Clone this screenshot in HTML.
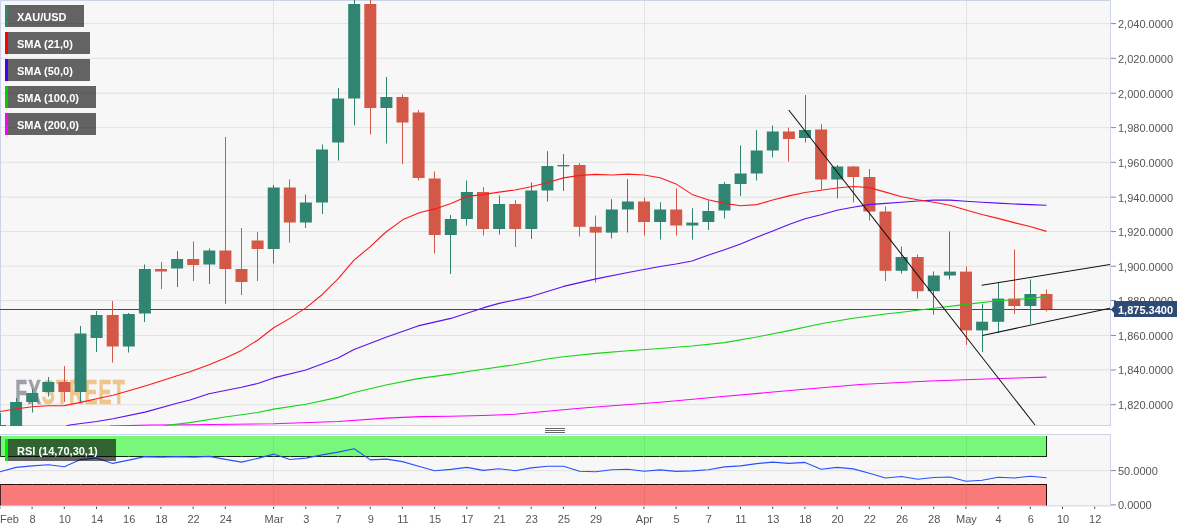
<!DOCTYPE html>
<html lang="en"><head><meta charset="utf-8"><title>XAU/USD chart</title>
<style>html,body{margin:0;padding:0;background:#fff}body{width:1194px;height:532px;overflow:hidden;font-family:"Liberation Sans",Arial,sans-serif}
svg{display:block}text{font-family:"Liberation Sans",Arial,sans-serif}</style></head><body>
<svg width="1194" height="532" viewBox="0 0 1194 532">
<defs><clipPath id="cm"><rect x="0" y="0" width="1110" height="426"/></clipPath><clipPath id="ct"><rect x="0" y="0" width="1110" height="425.5"/></clipPath><clipPath id="cr"><rect x="0" y="435" width="1110" height="71"/></clipPath></defs>
<rect width="1194" height="532" fill="#fff"/>
<rect x="0" y="0" width="1111" height="426" fill="#f7f7f7"/>
<rect x="0" y="434" width="1111" height="72" fill="#f7f7f7"/>
<g shape-rendering="crispEdges" stroke="#e3e3e3" stroke-width="1">
<rect x="1" y="23.10" width="1109" height="1" fill="#e1e1e1" stroke="none" shape-rendering="auto"/>
<rect x="1" y="57.80" width="1109" height="1" fill="#e1e1e1" stroke="none" shape-rendering="auto"/>
<rect x="1" y="92.70" width="1109" height="1" fill="#e1e1e1" stroke="none" shape-rendering="auto"/>
<rect x="1" y="127.10" width="1109" height="1" fill="#e1e1e1" stroke="none" shape-rendering="auto"/>
<rect x="1" y="161.80" width="1109" height="1" fill="#e1e1e1" stroke="none" shape-rendering="auto"/>
<rect x="1" y="196.65" width="1109" height="1" fill="#e1e1e1" stroke="none" shape-rendering="auto"/>
<rect x="1" y="231.05" width="1109" height="1" fill="#e1e1e1" stroke="none" shape-rendering="auto"/>
<rect x="1" y="265.70" width="1109" height="1" fill="#e1e1e1" stroke="none" shape-rendering="auto"/>
<rect x="1" y="300.00" width="1109" height="1" fill="#e1e1e1" stroke="none" shape-rendering="auto"/>
<rect x="1" y="334.95" width="1109" height="1" fill="#e1e1e1" stroke="none" shape-rendering="auto"/>
<rect x="1" y="369.45" width="1109" height="1" fill="#e1e1e1" stroke="none" shape-rendering="auto"/>
<rect x="1" y="404.20" width="1109" height="1" fill="#e1e1e1" stroke="none" shape-rendering="auto"/>
<line x1="273.5" y1="1" x2="273.5" y2="425"/>
<line x1="273.5" y1="435" x2="273.5" y2="506"/>
<line x1="644.5" y1="1" x2="644.5" y2="425"/>
<line x1="644.5" y1="435" x2="644.5" y2="506"/>
<line x1="966.5" y1="1" x2="966.5" y2="425"/>
<line x1="966.5" y1="435" x2="966.5" y2="506"/>
<rect x="1" y="470.1" width="1109" height="1" fill="#e1e1e1" stroke="none" shape-rendering="auto"/>
</g>
<g shape-rendering="crispEdges" fill="#ccd3e8">
<rect x="0" y="0" width="1111" height="1"/>
<rect x="0" y="0" width="1" height="426"/>
<rect x="1110" y="0" width="1" height="426"/>
<rect x="0" y="425" width="1111" height="1"/>
<rect x="0" y="434" width="1111" height="1"/>
<rect x="1110" y="434" width="1" height="72"/>
<rect x="0" y="505.4" width="1111" height="1" shape-rendering="auto"/>
</g>
<g opacity="0.8" font-weight="bold" font-size="34.5" stroke-width="0.7" stroke-linejoin="miter" letter-spacing="2">
<text transform="translate(15.2,404) scale(0.56,1)" x="0" y="0" fill="#8a8a95" stroke="#8a8a95">FX</text>
<text transform="translate(41.8,404) scale(0.568,1)" x="0" y="0" fill="#eeb972" stroke="#eeb972">STREET</text>
</g>
<line x1="0" y1="309.5" x2="1112" y2="309.5" stroke="#2d4b74" stroke-width="1" shape-rendering="crispEdges"/>
<g clip-path="url(#cm)" shape-rendering="crispEdges">
<rect x="0" y="413" width="1" height="17" fill="#2f8571" shape-rendering="auto"/>
<rect x="-6.0" y="425" width="12" height="5" fill="#2f8571" shape-rendering="auto"/>
<rect x="16" y="398" width="1" height="32" fill="#2f8571" shape-rendering="auto"/>
<rect x="10.1" y="402" width="12" height="28" fill="#2f8571" shape-rendering="auto"/>
<rect x="32" y="389" width="1" height="23.5" fill="#2f8571" shape-rendering="auto"/>
<rect x="26.2" y="393" width="12" height="9" fill="#2f8571" shape-rendering="auto"/>
<rect x="48" y="377" width="1" height="19.5" fill="#2f8571" shape-rendering="auto"/>
<rect x="42.3" y="382" width="12" height="10" fill="#2f8571" shape-rendering="auto"/>
<rect x="64" y="366" width="1" height="36" fill="#d35847" shape-rendering="auto"/>
<rect x="58.4" y="382" width="12" height="10" fill="#d35847" shape-rendering="auto"/>
<rect x="80" y="326" width="1" height="77" fill="#2f8571" shape-rendering="auto"/>
<rect x="74.5" y="333.5" width="12" height="58.5" fill="#2f8571" shape-rendering="auto"/>
<rect x="96" y="311" width="1" height="41" fill="#2f8571" shape-rendering="auto"/>
<rect x="90.6" y="315" width="12" height="23" fill="#2f8571" shape-rendering="auto"/>
<rect x="112" y="301" width="1" height="61.5" fill="#d35847" shape-rendering="auto"/>
<rect x="106.7" y="315" width="12" height="31.5" fill="#d35847" shape-rendering="auto"/>
<rect x="128" y="313" width="1" height="39.5" fill="#2f8571" shape-rendering="auto"/>
<rect x="122.8" y="314" width="12" height="32.5" fill="#2f8571" shape-rendering="auto"/>
<rect x="144" y="264.5" width="1" height="57.5" fill="#2f8571" shape-rendering="auto"/>
<rect x="138.9" y="269" width="12" height="44.5" fill="#2f8571" shape-rendering="auto"/>
<rect x="161" y="262" width="1" height="27" fill="#d35847" shape-rendering="auto"/>
<rect x="155.0" y="269" width="12" height="2.5" fill="#d35847" shape-rendering="auto"/>
<rect x="177" y="251" width="1" height="36" fill="#2f8571" shape-rendering="auto"/>
<rect x="171.1" y="259" width="12" height="9.5" fill="#2f8571" shape-rendering="auto"/>
<rect x="193" y="241.5" width="1" height="39.5" fill="#d35847" shape-rendering="auto"/>
<rect x="187.2" y="259" width="12" height="6" fill="#d35847" shape-rendering="auto"/>
<rect x="209" y="248.5" width="1" height="35.5" fill="#2f8571" shape-rendering="auto"/>
<rect x="203.3" y="250.5" width="12" height="14" fill="#2f8571" shape-rendering="auto"/>
<rect x="225" y="137" width="1" height="167" fill="#d35847" shape-rendering="auto"/>
<rect x="219.4" y="250.5" width="12" height="18.5" fill="#d35847" shape-rendering="auto"/>
<rect x="241" y="228" width="1" height="67" fill="#d35847" shape-rendering="auto"/>
<rect x="235.5" y="269" width="12" height="13" fill="#d35847" shape-rendering="auto"/>
<rect x="257" y="232" width="1" height="49" fill="#d35847" shape-rendering="auto"/>
<rect x="251.6" y="240.5" width="12" height="8.5" fill="#d35847" shape-rendering="auto"/>
<rect x="273" y="185" width="1" height="78.5" fill="#2f8571" shape-rendering="auto"/>
<rect x="267.7" y="187.5" width="12" height="61.5" fill="#2f8571" shape-rendering="auto"/>
<rect x="289" y="179.5" width="1" height="63" fill="#d35847" shape-rendering="auto"/>
<rect x="283.8" y="187.5" width="12" height="35" fill="#d35847" shape-rendering="auto"/>
<rect x="305" y="194.5" width="1" height="33.5" fill="#2f8571" shape-rendering="auto"/>
<rect x="299.9" y="202.5" width="12" height="20" fill="#2f8571" shape-rendering="auto"/>
<rect x="322" y="144.5" width="1" height="69.5" fill="#2f8571" shape-rendering="auto"/>
<rect x="316.0" y="149.5" width="12" height="53" fill="#2f8571" shape-rendering="auto"/>
<rect x="338" y="88" width="1" height="72.5" fill="#2f8571" shape-rendering="auto"/>
<rect x="332.1" y="98.5" width="12" height="44" fill="#2f8571" shape-rendering="auto"/>
<rect x="354" y="0" width="1" height="125.5" fill="#2f8571" shape-rendering="auto"/>
<rect x="348.2" y="4" width="12" height="94.5" fill="#2f8571" shape-rendering="auto"/>
<rect x="370" y="0" width="1" height="134.5" fill="#d35847" shape-rendering="auto"/>
<rect x="364.3" y="4" width="12" height="104" fill="#d35847" shape-rendering="auto"/>
<rect x="386" y="77" width="1" height="66.5" fill="#2f8571" shape-rendering="auto"/>
<rect x="380.4" y="97" width="12" height="11" fill="#2f8571" shape-rendering="auto"/>
<rect x="402" y="94.5" width="1" height="69.5" fill="#d35847" shape-rendering="auto"/>
<rect x="396.5" y="97" width="12" height="25.5" fill="#d35847" shape-rendering="auto"/>
<rect x="418" y="110" width="1" height="70.5" fill="#d35847" shape-rendering="auto"/>
<rect x="412.6" y="112.5" width="12" height="65.5" fill="#d35847" shape-rendering="auto"/>
<rect x="434" y="171.5" width="1" height="82" fill="#d35847" shape-rendering="auto"/>
<rect x="428.7" y="178.5" width="12" height="56.5" fill="#d35847" shape-rendering="auto"/>
<rect x="450" y="215" width="1" height="59" fill="#2f8571" shape-rendering="auto"/>
<rect x="444.8" y="219" width="12" height="16" fill="#2f8571" shape-rendering="auto"/>
<rect x="466" y="180.5" width="1" height="45" fill="#2f8571" shape-rendering="auto"/>
<rect x="460.9" y="192" width="12" height="27" fill="#2f8571" shape-rendering="auto"/>
<rect x="483" y="187" width="1" height="48.5" fill="#d35847" shape-rendering="auto"/>
<rect x="477.0" y="192" width="12" height="37" fill="#d35847" shape-rendering="auto"/>
<rect x="499" y="195.5" width="1" height="39" fill="#2f8571" shape-rendering="auto"/>
<rect x="493.1" y="204" width="12" height="25" fill="#2f8571" shape-rendering="auto"/>
<rect x="515" y="200" width="1" height="47" fill="#d35847" shape-rendering="auto"/>
<rect x="509.2" y="204" width="12" height="25" fill="#d35847" shape-rendering="auto"/>
<rect x="531" y="182.5" width="1" height="56.5" fill="#2f8571" shape-rendering="auto"/>
<rect x="525.3" y="190.5" width="12" height="38.5" fill="#2f8571" shape-rendering="auto"/>
<rect x="547" y="151.2" width="1" height="50.3" fill="#2f8571" shape-rendering="auto"/>
<rect x="541.4" y="166" width="12" height="24.5" fill="#2f8571" shape-rendering="auto"/>
<rect x="563" y="154" width="1" height="37" fill="#2f8571" shape-rendering="auto"/>
<rect x="557.5" y="165" width="12" height="1.4" fill="#2f8571" shape-rendering="auto"/>
<rect x="579" y="163" width="1" height="73.5" fill="#d35847" shape-rendering="auto"/>
<rect x="573.6" y="165" width="12" height="61.8" fill="#d35847" shape-rendering="auto"/>
<rect x="595" y="215.5" width="1" height="67" fill="#d35847" shape-rendering="auto"/>
<rect x="589.7" y="226.8" width="12" height="5.8" fill="#d35847" shape-rendering="auto"/>
<rect x="611" y="199.2" width="1" height="39.3" fill="#2f8571" shape-rendering="auto"/>
<rect x="605.8" y="209.5" width="12" height="23.1" fill="#2f8571" shape-rendering="auto"/>
<rect x="627" y="179.2" width="1" height="53.3" fill="#2f8571" shape-rendering="auto"/>
<rect x="621.9" y="201.5" width="12" height="8" fill="#2f8571" shape-rendering="auto"/>
<rect x="644" y="197.5" width="1" height="38" fill="#d35847" shape-rendering="auto"/>
<rect x="638.0" y="201.5" width="12" height="20.5" fill="#d35847" shape-rendering="auto"/>
<rect x="660" y="202.2" width="1" height="37.3" fill="#2f8571" shape-rendering="auto"/>
<rect x="654.1" y="209.5" width="12" height="12.5" fill="#2f8571" shape-rendering="auto"/>
<rect x="676" y="188.2" width="1" height="47.3" fill="#d35847" shape-rendering="auto"/>
<rect x="670.2" y="209.5" width="12" height="16" fill="#d35847" shape-rendering="auto"/>
<rect x="692" y="208.2" width="1" height="31.4" fill="#2f8571" shape-rendering="auto"/>
<rect x="686.3" y="222.6" width="12" height="2.9" fill="#2f8571" shape-rendering="auto"/>
<rect x="708" y="200.5" width="1" height="29.5" fill="#2f8571" shape-rendering="auto"/>
<rect x="702.4" y="211" width="12" height="11" fill="#2f8571" shape-rendering="auto"/>
<rect x="724" y="182" width="1" height="36.5" fill="#2f8571" shape-rendering="auto"/>
<rect x="718.5" y="184" width="12" height="26.5" fill="#2f8571" shape-rendering="auto"/>
<rect x="740" y="145.5" width="1" height="50.5" fill="#2f8571" shape-rendering="auto"/>
<rect x="734.6" y="173.5" width="12" height="10.5" fill="#2f8571" shape-rendering="auto"/>
<rect x="756" y="130" width="1" height="50.5" fill="#2f8571" shape-rendering="auto"/>
<rect x="750.7" y="150.5" width="12" height="23" fill="#2f8571" shape-rendering="auto"/>
<rect x="772" y="125.5" width="1" height="32" fill="#2f8571" shape-rendering="auto"/>
<rect x="766.8" y="131.5" width="12" height="19" fill="#2f8571" shape-rendering="auto"/>
<rect x="788" y="127.5" width="1" height="34" fill="#d35847" shape-rendering="auto"/>
<rect x="782.9" y="131.5" width="12" height="7.5" fill="#d35847" shape-rendering="auto"/>
<rect x="805" y="95" width="1" height="47.5" fill="#2f8571" shape-rendering="auto"/>
<rect x="799.0" y="130" width="12" height="8" fill="#2f8571" shape-rendering="auto"/>
<rect x="821" y="124" width="1" height="65.5" fill="#d35847" shape-rendering="auto"/>
<rect x="815.1" y="129.5" width="12" height="50" fill="#d35847" shape-rendering="auto"/>
<rect x="837" y="165" width="1" height="33.5" fill="#2f8571" shape-rendering="auto"/>
<rect x="831.2" y="166.5" width="12" height="13" fill="#2f8571" shape-rendering="auto"/>
<rect x="853" y="166" width="1" height="36.5" fill="#d35847" shape-rendering="auto"/>
<rect x="847.3" y="166.5" width="12" height="10.5" fill="#d35847" shape-rendering="auto"/>
<rect x="869" y="169" width="1" height="51.5" fill="#d35847" shape-rendering="auto"/>
<rect x="863.4" y="177" width="12" height="34.5" fill="#d35847" shape-rendering="auto"/>
<rect x="885" y="206.5" width="1" height="74.5" fill="#d35847" shape-rendering="auto"/>
<rect x="879.5" y="211.5" width="12" height="59.3" fill="#d35847" shape-rendering="auto"/>
<rect x="901" y="246.5" width="1" height="27.1" fill="#2f8571" shape-rendering="auto"/>
<rect x="895.6" y="257" width="12" height="13.8" fill="#2f8571" shape-rendering="auto"/>
<rect x="917" y="254.5" width="1" height="44.1" fill="#d35847" shape-rendering="auto"/>
<rect x="911.7" y="257" width="12" height="34.2" fill="#d35847" shape-rendering="auto"/>
<rect x="933" y="271.4" width="1" height="43.2" fill="#2f8571" shape-rendering="auto"/>
<rect x="927.8" y="275.5" width="12" height="15.7" fill="#2f8571" shape-rendering="auto"/>
<rect x="949" y="231.5" width="1" height="48.1" fill="#2f8571" shape-rendering="auto"/>
<rect x="943.9" y="271.6" width="12" height="3.9" fill="#2f8571" shape-rendering="auto"/>
<rect x="966" y="266.5" width="1" height="78.4" fill="#d35847" shape-rendering="auto"/>
<rect x="960.0" y="271.6" width="12" height="58.8" fill="#d35847" shape-rendering="auto"/>
<rect x="982" y="304" width="1" height="48" fill="#2f8571" shape-rendering="auto"/>
<rect x="976.1" y="321.7" width="12" height="8.7" fill="#2f8571" shape-rendering="auto"/>
<rect x="998" y="283" width="1" height="50.2" fill="#2f8571" shape-rendering="auto"/>
<rect x="992.2" y="298.6" width="12" height="23.2" fill="#2f8571" shape-rendering="auto"/>
<rect x="1014" y="249.5" width="1" height="64.5" fill="#d35847" shape-rendering="auto"/>
<rect x="1008.3" y="298.6" width="12" height="7.4" fill="#d35847" shape-rendering="auto"/>
<rect x="1030" y="279.5" width="1" height="44.5" fill="#2f8571" shape-rendering="auto"/>
<rect x="1024.4" y="294" width="12" height="12" fill="#2f8571" shape-rendering="auto"/>
<rect x="1046" y="289.5" width="1" height="22" fill="#d35847" shape-rendering="auto"/>
<rect x="1040.5" y="294" width="12" height="15" fill="#d35847" shape-rendering="auto"/>
</g>
<g clip-path="url(#cm)" fill="none" stroke-width="1.1" stroke-linejoin="round">
<polyline stroke="#ff00ff" points="110.0,426.0 150.0,425.0 190.0,424.7 273.7,423.8 338.0,421.5 386.0,418.1 420.0,416.6 451.0,416.2 483.0,415.5 515.0,414.3 547.0,411.3 580.0,408.3 612.0,405.7 660.0,402.3 720.0,396.8 790.0,390.5 860.0,384.5 930.0,381.0 1000.0,378.5 1046.5,377.1"/>
<polyline stroke="#14d414" points="160.0,427.0 169.0,425.0 190.0,422.6 225.0,417.0 257.6,412.5 273.7,409.1 305.9,404.2 338.0,397.4 354.0,392.5 386.0,385.0 418.0,378.6 451.0,374.1 483.0,369.2 515.0,364.7 547.0,359.0 563.5,356.8 596.0,353.4 628.0,350.8 660.0,348.5 692.0,346.0 724.5,342.6 756.7,337.0 788.9,330.6 821.0,323.8 853.0,318.2 885.5,314.0 901.6,312.3 933.8,308.3 966.0,304.4 998.0,300.8 1030.0,298.4 1046.5,296.6"/>
<polyline stroke="#5c10f0" points="64.0,427.0 69.5,425.0 96.6,421.5 113.0,418.7 145.0,412.1 177.0,403.3 190.0,400.0 209.0,393.7 241.5,387.3 257.6,383.5 273.7,377.9 305.9,370.0 338.0,357.9 354.0,349.6 386.0,337.2 418.0,325.9 450.8,318.4 483.0,307.9 499.0,303.4 531.0,296.6 563.5,286.4 596.0,278.9 628.0,272.5 660.0,266.5 676.0,264.0 692.0,261.0 708.0,255.3 724.5,249.7 740.6,244.0 756.7,237.3 772.8,230.9 788.9,224.5 805.0,218.8 821.0,214.7 837.0,210.2 853.0,207.2 869.0,204.6 885.5,203.4 901.6,202.2 917.7,201.0 933.8,200.1 949.9,200.1 966.0,201.3 982.0,202.2 998.0,203.1 1014.0,204.0 1030.0,204.6 1046.5,205.2"/>
<polyline stroke="#ff1a1a" points="0.0,411.5 16.0,409.0 32.0,406.8 48.0,405.7 64.4,405.6 80.5,402.4 96.6,398.8 113.0,395.2 128.8,390.8 145.0,386.0 161.0,381.0 177.0,375.7 190.0,371.8 209.0,364.7 225.4,357.9 241.5,350.4 257.6,340.2 273.7,327.8 289.8,318.4 305.9,307.9 322.0,294.7 338.0,278.9 354.0,260.1 370.0,246.9 380.0,237.5 386.0,232.0 403.0,219.6 420.0,212.5 435.0,208.9 451.0,203.6 467.0,196.4 483.0,194.6 499.0,192.1 515.0,190.0 531.0,186.8 547.0,182.7 563.5,177.9 580.0,175.4 596.0,174.4 612.0,175.0 628.0,174.1 644.0,175.0 660.0,177.8 676.0,183.9 692.0,194.4 708.0,199.7 724.5,203.4 740.6,205.7 756.7,204.6 772.8,200.0 788.9,195.9 805.0,192.5 821.0,190.3 837.0,188.0 853.0,186.5 869.4,187.6 885.5,192.1 901.6,196.8 917.7,199.8 933.8,202.2 949.9,205.2 966.0,210.0 982.0,214.5 998.0,218.4 1014.0,222.6 1030.0,226.5 1046.5,231.4"/>
</g>
<g clip-path="url(#ct)" stroke="#111" stroke-width="1.05" fill="none">
<line x1="788.7" y1="110" x2="1035" y2="425"/>
<line x1="981.7" y1="285.3" x2="1110" y2="264.5"/>
<line x1="982.4" y1="335.4" x2="1110" y2="308.3"/>
</g>
<g shape-rendering="crispEdges">
<rect x="0" y="436" width="1047" height="21" fill="#78f878"/>
<rect x="0" y="484" width="1047" height="21.5" fill="#fa7a7a" shape-rendering="auto"/>
<rect x="273" y="436" width="1" height="21" fill="#70e870"/>
<rect x="273" y="484" width="1" height="21.5" fill="#ea7272" shape-rendering="auto"/>
<rect x="644" y="436" width="1" height="21" fill="#70e870"/>
<rect x="644" y="484" width="1" height="21.5" fill="#ea7272" shape-rendering="auto"/>
<rect x="966" y="436" width="1" height="21" fill="#70e870"/>
<rect x="966" y="484" width="1" height="21.5" fill="#ea7272" shape-rendering="auto"/>
<rect x="0" y="456" width="1047" height="1" fill="#0a2a0a"/>
<rect x="0" y="484" width="1047" height="1" fill="#2a0a0a"/>
<rect x="15.6" y="456" width="1" height="1" fill="#3c8c3c" shape-rendering="auto"/>
<rect x="15.6" y="484" width="1" height="1" fill="#8c3c3c" shape-rendering="auto"/>
<rect x="31.7" y="456" width="1" height="1" fill="#3c8c3c" shape-rendering="auto"/>
<rect x="31.7" y="484" width="1" height="1" fill="#8c3c3c" shape-rendering="auto"/>
<rect x="47.8" y="456" width="1" height="1" fill="#3c8c3c" shape-rendering="auto"/>
<rect x="47.8" y="484" width="1" height="1" fill="#8c3c3c" shape-rendering="auto"/>
<rect x="63.9" y="456" width="1" height="1" fill="#3c8c3c" shape-rendering="auto"/>
<rect x="63.9" y="484" width="1" height="1" fill="#8c3c3c" shape-rendering="auto"/>
<rect x="80.0" y="456" width="1" height="1" fill="#3c8c3c" shape-rendering="auto"/>
<rect x="80.0" y="484" width="1" height="1" fill="#8c3c3c" shape-rendering="auto"/>
<rect x="96.1" y="456" width="1" height="1" fill="#3c8c3c" shape-rendering="auto"/>
<rect x="96.1" y="484" width="1" height="1" fill="#8c3c3c" shape-rendering="auto"/>
<rect x="112.2" y="456" width="1" height="1" fill="#3c8c3c" shape-rendering="auto"/>
<rect x="112.2" y="484" width="1" height="1" fill="#8c3c3c" shape-rendering="auto"/>
<rect x="128.3" y="456" width="1" height="1" fill="#3c8c3c" shape-rendering="auto"/>
<rect x="128.3" y="484" width="1" height="1" fill="#8c3c3c" shape-rendering="auto"/>
<rect x="144.4" y="456" width="1" height="1" fill="#3c8c3c" shape-rendering="auto"/>
<rect x="144.4" y="484" width="1" height="1" fill="#8c3c3c" shape-rendering="auto"/>
<rect x="160.5" y="456" width="1" height="1" fill="#3c8c3c" shape-rendering="auto"/>
<rect x="160.5" y="484" width="1" height="1" fill="#8c3c3c" shape-rendering="auto"/>
<rect x="176.6" y="456" width="1" height="1" fill="#3c8c3c" shape-rendering="auto"/>
<rect x="176.6" y="484" width="1" height="1" fill="#8c3c3c" shape-rendering="auto"/>
<rect x="192.7" y="456" width="1" height="1" fill="#3c8c3c" shape-rendering="auto"/>
<rect x="192.7" y="484" width="1" height="1" fill="#8c3c3c" shape-rendering="auto"/>
<rect x="208.8" y="456" width="1" height="1" fill="#3c8c3c" shape-rendering="auto"/>
<rect x="208.8" y="484" width="1" height="1" fill="#8c3c3c" shape-rendering="auto"/>
<rect x="224.9" y="456" width="1" height="1" fill="#3c8c3c" shape-rendering="auto"/>
<rect x="224.9" y="484" width="1" height="1" fill="#8c3c3c" shape-rendering="auto"/>
<rect x="241.0" y="456" width="1" height="1" fill="#3c8c3c" shape-rendering="auto"/>
<rect x="241.0" y="484" width="1" height="1" fill="#8c3c3c" shape-rendering="auto"/>
<rect x="257.1" y="456" width="1" height="1" fill="#3c8c3c" shape-rendering="auto"/>
<rect x="257.1" y="484" width="1" height="1" fill="#8c3c3c" shape-rendering="auto"/>
<rect x="273.2" y="456" width="1" height="1" fill="#3c8c3c" shape-rendering="auto"/>
<rect x="273.2" y="484" width="1" height="1" fill="#8c3c3c" shape-rendering="auto"/>
<rect x="289.3" y="456" width="1" height="1" fill="#3c8c3c" shape-rendering="auto"/>
<rect x="289.3" y="484" width="1" height="1" fill="#8c3c3c" shape-rendering="auto"/>
<rect x="305.4" y="456" width="1" height="1" fill="#3c8c3c" shape-rendering="auto"/>
<rect x="305.4" y="484" width="1" height="1" fill="#8c3c3c" shape-rendering="auto"/>
<rect x="321.5" y="456" width="1" height="1" fill="#3c8c3c" shape-rendering="auto"/>
<rect x="321.5" y="484" width="1" height="1" fill="#8c3c3c" shape-rendering="auto"/>
<rect x="337.6" y="456" width="1" height="1" fill="#3c8c3c" shape-rendering="auto"/>
<rect x="337.6" y="484" width="1" height="1" fill="#8c3c3c" shape-rendering="auto"/>
<rect x="353.7" y="456" width="1" height="1" fill="#3c8c3c" shape-rendering="auto"/>
<rect x="353.7" y="484" width="1" height="1" fill="#8c3c3c" shape-rendering="auto"/>
<rect x="369.8" y="456" width="1" height="1" fill="#3c8c3c" shape-rendering="auto"/>
<rect x="369.8" y="484" width="1" height="1" fill="#8c3c3c" shape-rendering="auto"/>
<rect x="385.9" y="456" width="1" height="1" fill="#3c8c3c" shape-rendering="auto"/>
<rect x="385.9" y="484" width="1" height="1" fill="#8c3c3c" shape-rendering="auto"/>
<rect x="402.0" y="456" width="1" height="1" fill="#3c8c3c" shape-rendering="auto"/>
<rect x="402.0" y="484" width="1" height="1" fill="#8c3c3c" shape-rendering="auto"/>
<rect x="418.1" y="456" width="1" height="1" fill="#3c8c3c" shape-rendering="auto"/>
<rect x="418.1" y="484" width="1" height="1" fill="#8c3c3c" shape-rendering="auto"/>
<rect x="434.2" y="456" width="1" height="1" fill="#3c8c3c" shape-rendering="auto"/>
<rect x="434.2" y="484" width="1" height="1" fill="#8c3c3c" shape-rendering="auto"/>
<rect x="450.3" y="456" width="1" height="1" fill="#3c8c3c" shape-rendering="auto"/>
<rect x="450.3" y="484" width="1" height="1" fill="#8c3c3c" shape-rendering="auto"/>
<rect x="466.4" y="456" width="1" height="1" fill="#3c8c3c" shape-rendering="auto"/>
<rect x="466.4" y="484" width="1" height="1" fill="#8c3c3c" shape-rendering="auto"/>
<rect x="482.5" y="456" width="1" height="1" fill="#3c8c3c" shape-rendering="auto"/>
<rect x="482.5" y="484" width="1" height="1" fill="#8c3c3c" shape-rendering="auto"/>
<rect x="498.6" y="456" width="1" height="1" fill="#3c8c3c" shape-rendering="auto"/>
<rect x="498.6" y="484" width="1" height="1" fill="#8c3c3c" shape-rendering="auto"/>
<rect x="514.7" y="456" width="1" height="1" fill="#3c8c3c" shape-rendering="auto"/>
<rect x="514.7" y="484" width="1" height="1" fill="#8c3c3c" shape-rendering="auto"/>
<rect x="530.8" y="456" width="1" height="1" fill="#3c8c3c" shape-rendering="auto"/>
<rect x="530.8" y="484" width="1" height="1" fill="#8c3c3c" shape-rendering="auto"/>
<rect x="546.9" y="456" width="1" height="1" fill="#3c8c3c" shape-rendering="auto"/>
<rect x="546.9" y="484" width="1" height="1" fill="#8c3c3c" shape-rendering="auto"/>
<rect x="563.0" y="456" width="1" height="1" fill="#3c8c3c" shape-rendering="auto"/>
<rect x="563.0" y="484" width="1" height="1" fill="#8c3c3c" shape-rendering="auto"/>
<rect x="579.1" y="456" width="1" height="1" fill="#3c8c3c" shape-rendering="auto"/>
<rect x="579.1" y="484" width="1" height="1" fill="#8c3c3c" shape-rendering="auto"/>
<rect x="595.2" y="456" width="1" height="1" fill="#3c8c3c" shape-rendering="auto"/>
<rect x="595.2" y="484" width="1" height="1" fill="#8c3c3c" shape-rendering="auto"/>
<rect x="611.3" y="456" width="1" height="1" fill="#3c8c3c" shape-rendering="auto"/>
<rect x="611.3" y="484" width="1" height="1" fill="#8c3c3c" shape-rendering="auto"/>
<rect x="627.4" y="456" width="1" height="1" fill="#3c8c3c" shape-rendering="auto"/>
<rect x="627.4" y="484" width="1" height="1" fill="#8c3c3c" shape-rendering="auto"/>
<rect x="643.5" y="456" width="1" height="1" fill="#3c8c3c" shape-rendering="auto"/>
<rect x="643.5" y="484" width="1" height="1" fill="#8c3c3c" shape-rendering="auto"/>
<rect x="659.6" y="456" width="1" height="1" fill="#3c8c3c" shape-rendering="auto"/>
<rect x="659.6" y="484" width="1" height="1" fill="#8c3c3c" shape-rendering="auto"/>
<rect x="675.7" y="456" width="1" height="1" fill="#3c8c3c" shape-rendering="auto"/>
<rect x="675.7" y="484" width="1" height="1" fill="#8c3c3c" shape-rendering="auto"/>
<rect x="691.8" y="456" width="1" height="1" fill="#3c8c3c" shape-rendering="auto"/>
<rect x="691.8" y="484" width="1" height="1" fill="#8c3c3c" shape-rendering="auto"/>
<rect x="707.9" y="456" width="1" height="1" fill="#3c8c3c" shape-rendering="auto"/>
<rect x="707.9" y="484" width="1" height="1" fill="#8c3c3c" shape-rendering="auto"/>
<rect x="724.0" y="456" width="1" height="1" fill="#3c8c3c" shape-rendering="auto"/>
<rect x="724.0" y="484" width="1" height="1" fill="#8c3c3c" shape-rendering="auto"/>
<rect x="740.1" y="456" width="1" height="1" fill="#3c8c3c" shape-rendering="auto"/>
<rect x="740.1" y="484" width="1" height="1" fill="#8c3c3c" shape-rendering="auto"/>
<rect x="756.2" y="456" width="1" height="1" fill="#3c8c3c" shape-rendering="auto"/>
<rect x="756.2" y="484" width="1" height="1" fill="#8c3c3c" shape-rendering="auto"/>
<rect x="772.3" y="456" width="1" height="1" fill="#3c8c3c" shape-rendering="auto"/>
<rect x="772.3" y="484" width="1" height="1" fill="#8c3c3c" shape-rendering="auto"/>
<rect x="788.4" y="456" width="1" height="1" fill="#3c8c3c" shape-rendering="auto"/>
<rect x="788.4" y="484" width="1" height="1" fill="#8c3c3c" shape-rendering="auto"/>
<rect x="804.5" y="456" width="1" height="1" fill="#3c8c3c" shape-rendering="auto"/>
<rect x="804.5" y="484" width="1" height="1" fill="#8c3c3c" shape-rendering="auto"/>
<rect x="820.6" y="456" width="1" height="1" fill="#3c8c3c" shape-rendering="auto"/>
<rect x="820.6" y="484" width="1" height="1" fill="#8c3c3c" shape-rendering="auto"/>
<rect x="836.7" y="456" width="1" height="1" fill="#3c8c3c" shape-rendering="auto"/>
<rect x="836.7" y="484" width="1" height="1" fill="#8c3c3c" shape-rendering="auto"/>
<rect x="852.8" y="456" width="1" height="1" fill="#3c8c3c" shape-rendering="auto"/>
<rect x="852.8" y="484" width="1" height="1" fill="#8c3c3c" shape-rendering="auto"/>
<rect x="868.9" y="456" width="1" height="1" fill="#3c8c3c" shape-rendering="auto"/>
<rect x="868.9" y="484" width="1" height="1" fill="#8c3c3c" shape-rendering="auto"/>
<rect x="885.0" y="456" width="1" height="1" fill="#3c8c3c" shape-rendering="auto"/>
<rect x="885.0" y="484" width="1" height="1" fill="#8c3c3c" shape-rendering="auto"/>
<rect x="901.1" y="456" width="1" height="1" fill="#3c8c3c" shape-rendering="auto"/>
<rect x="901.1" y="484" width="1" height="1" fill="#8c3c3c" shape-rendering="auto"/>
<rect x="917.2" y="456" width="1" height="1" fill="#3c8c3c" shape-rendering="auto"/>
<rect x="917.2" y="484" width="1" height="1" fill="#8c3c3c" shape-rendering="auto"/>
<rect x="933.3" y="456" width="1" height="1" fill="#3c8c3c" shape-rendering="auto"/>
<rect x="933.3" y="484" width="1" height="1" fill="#8c3c3c" shape-rendering="auto"/>
<rect x="949.4" y="456" width="1" height="1" fill="#3c8c3c" shape-rendering="auto"/>
<rect x="949.4" y="484" width="1" height="1" fill="#8c3c3c" shape-rendering="auto"/>
<rect x="965.5" y="456" width="1" height="1" fill="#3c8c3c" shape-rendering="auto"/>
<rect x="965.5" y="484" width="1" height="1" fill="#8c3c3c" shape-rendering="auto"/>
<rect x="981.6" y="456" width="1" height="1" fill="#3c8c3c" shape-rendering="auto"/>
<rect x="981.6" y="484" width="1" height="1" fill="#8c3c3c" shape-rendering="auto"/>
<rect x="997.7" y="456" width="1" height="1" fill="#3c8c3c" shape-rendering="auto"/>
<rect x="997.7" y="484" width="1" height="1" fill="#8c3c3c" shape-rendering="auto"/>
<rect x="1013.8" y="456" width="1" height="1" fill="#3c8c3c" shape-rendering="auto"/>
<rect x="1013.8" y="484" width="1" height="1" fill="#8c3c3c" shape-rendering="auto"/>
<rect x="1029.9" y="456" width="1" height="1" fill="#3c8c3c" shape-rendering="auto"/>
<rect x="1029.9" y="484" width="1" height="1" fill="#8c3c3c" shape-rendering="auto"/>
<rect x="1046" y="436" width="1" height="21" fill="#0a2a0a"/>
<rect x="1046" y="484" width="1" height="21.5" fill="#2a0a0a" shape-rendering="auto"/>
<rect x="0" y="436" width="1" height="21" fill="#2a4a3a"/>
<rect x="0" y="484" width="1" height="21.5" fill="#4a2a2a" shape-rendering="auto"/>
</g>
<polyline clip-path="url(#cr)" fill="none" stroke="#2a50ff" stroke-width="1.1" stroke-linejoin="round" points="0.0,471.7 16.1,467.4 32.2,465.9 48.3,464.7 64.4,466.7 80.5,459.6 96.6,457.9 112.7,463.4 128.8,460.1 144.9,456.6 161.0,457.1 177.1,456.6 193.2,457.1 209.3,456.4 225.4,459.4 241.5,462.1 257.6,458.4 273.7,454.1 289.8,459.5 305.9,458.1 322.0,454.9 338.1,452.1 354.2,448.8 370.3,459.9 386.4,459.1 402.5,461.6 418.6,466.2 434.7,470.7 450.8,469.4 466.9,467.4 483.0,470.4 499.1,468.7 515.2,470.7 531.3,467.9 547.4,466.2 563.5,466.2 579.6,471.2 595.7,471.7 611.8,469.7 627.9,469.2 644.0,471.2 660.1,469.9 676.2,471.4 692.3,470.9 708.4,469.7 724.5,466.9 740.6,465.9 756.7,463.6 772.8,462.1 788.9,463.4 805.0,462.4 821.1,469.2 837.2,467.4 853.3,468.9 869.4,473.2 885.5,478.0 901.6,476.5 917.7,479.2 933.8,477.5 949.9,477.0 966.0,481.2 982.1,480.2 998.2,477.2 1014.3,478.0 1030.4,476.2 1046.5,477.7"/>
<g shape-rendering="crispEdges" fill="#666"><rect x="545" y="428" width="20" height="1"/><rect x="545" y="430" width="20" height="1"/><rect x="545" y="432" width="20" height="1"/></g>
<g fill="#8a8a8a">
<rect x="1111" y="23.10" width="5" height="1"/>
<rect x="1111" y="57.80" width="5" height="1"/>
<rect x="1111" y="92.70" width="5" height="1"/>
<rect x="1111" y="127.10" width="5" height="1"/>
<rect x="1111" y="161.80" width="5" height="1"/>
<rect x="1111" y="196.65" width="5" height="1"/>
<rect x="1111" y="231.05" width="5" height="1"/>
<rect x="1111" y="265.70" width="5" height="1"/>
<rect x="1111" y="300.00" width="5" height="1"/>
<rect x="1111" y="334.95" width="5" height="1"/>
<rect x="1111" y="369.45" width="5" height="1"/>
<rect x="1111" y="404.20" width="5" height="1"/>
<rect x="1111" y="470.1" width="5" height="1"/><rect x="1111" y="504.4" width="5" height="1"/>
</g>
<g font-size="11" fill="#555">
<text x="1118" y="28">2,040.0000</text>
<text x="1118" y="63">2,020.0000</text>
<text x="1118" y="98">2,000.0000</text>
<text x="1118" y="132">1,980.0000</text>
<text x="1118" y="167">1,960.0000</text>
<text x="1118" y="202">1,940.0000</text>
<text x="1118" y="236">1,920.0000</text>
<text x="1118" y="271">1,900.0000</text>
<text x="1118" y="305">1,880.0000</text>
<text x="1118" y="340">1,860.0000</text>
<text x="1118" y="374">1,840.0000</text>
<text x="1118" y="409">1,820.0000</text>
<text x="1118" y="474.6">50.0000</text><text x="1118" y="508.6">0.0000</text>
</g>
<path d="M1110.8 309.5 L1114 306 L1114 301 L1177 301 L1177 317 L1114 317 L1114 313 Z" fill="#2d4b74"/>
<text x="1118" y="313.8" font-size="11" font-weight="bold" fill="#fff">1,875.3400</text>
<g fill="#444">
<rect x="-0.6" y="506.8" width="1" height="2.1"/>
<rect x="31.6" y="506.8" width="1" height="2.1"/>
<rect x="63.8" y="506.8" width="1" height="2.1"/>
<rect x="96.0" y="506.8" width="1" height="2.1"/>
<rect x="128.2" y="506.8" width="1" height="2.1"/>
<rect x="160.4" y="506.8" width="1" height="2.1"/>
<rect x="192.6" y="506.8" width="1" height="2.1"/>
<rect x="224.8" y="506.8" width="1" height="2.1"/>
<rect x="273.1" y="506.8" width="1" height="2.1"/>
<rect x="305.3" y="506.8" width="1" height="2.1"/>
<rect x="337.5" y="506.8" width="1" height="2.1"/>
<rect x="369.7" y="506.8" width="1" height="2.1"/>
<rect x="401.9" y="506.8" width="1" height="2.1"/>
<rect x="434.1" y="506.8" width="1" height="2.1"/>
<rect x="466.3" y="506.8" width="1" height="2.1"/>
<rect x="498.5" y="506.8" width="1" height="2.1"/>
<rect x="530.7" y="506.8" width="1" height="2.1"/>
<rect x="562.9" y="506.8" width="1" height="2.1"/>
<rect x="595.1" y="506.8" width="1" height="2.1"/>
<rect x="643.4" y="506.8" width="1" height="2.1"/>
<rect x="675.6" y="506.8" width="1" height="2.1"/>
<rect x="707.8" y="506.8" width="1" height="2.1"/>
<rect x="740.0" y="506.8" width="1" height="2.1"/>
<rect x="772.2" y="506.8" width="1" height="2.1"/>
<rect x="804.4" y="506.8" width="1" height="2.1"/>
<rect x="836.6" y="506.8" width="1" height="2.1"/>
<rect x="868.8" y="506.8" width="1" height="2.1"/>
<rect x="901.0" y="506.8" width="1" height="2.1"/>
<rect x="933.2" y="506.8" width="1" height="2.1"/>
<rect x="965.4" y="506.8" width="1" height="2.1"/>
<rect x="997.6" y="506.8" width="1" height="2.1"/>
<rect x="1029.8" y="506.8" width="1" height="2.1"/>
<rect x="1062.0" y="506.8" width="1" height="2.1"/>
<rect x="1094.2" y="506.8" width="1" height="2.1"/>
</g>
<g font-size="11" fill="#555" text-anchor="middle">
<text x="0" y="523" text-anchor="start">Feb</text>
<text x="32.6" y="523">8</text>
<text x="64.8" y="523">10</text>
<text x="97.0" y="523">14</text>
<text x="129.2" y="523">16</text>
<text x="161.4" y="523">18</text>
<text x="193.6" y="523">22</text>
<text x="225.8" y="523">24</text>
<text x="274.1" y="523">Mar</text>
<text x="306.3" y="523">3</text>
<text x="338.5" y="523">7</text>
<text x="370.7" y="523">9</text>
<text x="402.9" y="523">11</text>
<text x="435.1" y="523">15</text>
<text x="467.3" y="523">17</text>
<text x="499.5" y="523">21</text>
<text x="531.7" y="523">23</text>
<text x="563.9" y="523">25</text>
<text x="596.1" y="523">29</text>
<text x="644.4" y="523">Apr</text>
<text x="676.6" y="523">5</text>
<text x="708.8" y="523">7</text>
<text x="741.0" y="523">11</text>
<text x="773.2" y="523">13</text>
<text x="805.4" y="523">18</text>
<text x="837.6" y="523">20</text>
<text x="869.8" y="523">22</text>
<text x="902.0" y="523">26</text>
<text x="934.2" y="523">28</text>
<text x="966.4" y="523">May</text>
<text x="998.6" y="523">4</text>
<text x="1030.8" y="523">6</text>
<text x="1063.0" y="523">10</text>
<text x="1095.2" y="523">12</text>
</g>
<rect x="5" y="5" width="79" height="22" fill="#000" fill-opacity="0.6" shape-rendering="crispEdges"/>
<rect x="5" y="5" width="3" height="22" fill="#2f8571" shape-rendering="crispEdges"/>
<text x="17" y="20.6" font-size="11" font-weight="bold" fill="#fff">XAU/USD</text>
<rect x="5" y="32" width="85" height="22" fill="#000" fill-opacity="0.6" shape-rendering="crispEdges"/>
<rect x="5" y="32" width="3" height="22" fill="#ff0000" shape-rendering="crispEdges"/>
<text x="17" y="47.6" font-size="11" font-weight="bold" fill="#fff">SMA (21,0)</text>
<rect x="5" y="59" width="85" height="22" fill="#000" fill-opacity="0.6" shape-rendering="crispEdges"/>
<rect x="5" y="59" width="3" height="22" fill="#4600f0" shape-rendering="crispEdges"/>
<text x="17" y="74.6" font-size="11" font-weight="bold" fill="#fff">SMA (50,0)</text>
<rect x="5" y="86" width="91" height="22" fill="#000" fill-opacity="0.6" shape-rendering="crispEdges"/>
<rect x="5" y="86" width="3" height="22" fill="#00cc00" shape-rendering="crispEdges"/>
<text x="17" y="101.6" font-size="11" font-weight="bold" fill="#fff">SMA (100,0)</text>
<rect x="5" y="113" width="91" height="22" fill="#000" fill-opacity="0.6" shape-rendering="crispEdges"/>
<rect x="5" y="113" width="3" height="22" fill="#ff00ff" shape-rendering="crispEdges"/>
<text x="17" y="128.6" font-size="11" font-weight="bold" fill="#fff">SMA (200,0)</text>
<rect x="5" y="439" width="111" height="22" fill="#000" fill-opacity="0.6" shape-rendering="crispEdges"/>
<rect x="5" y="439" width="3" height="22" fill="#00ee00" shape-rendering="crispEdges"/>
<text x="17" y="454.6" font-size="11" font-weight="bold" fill="#fff">RSI (14,70,30,1)</text>
</svg></body></html>
